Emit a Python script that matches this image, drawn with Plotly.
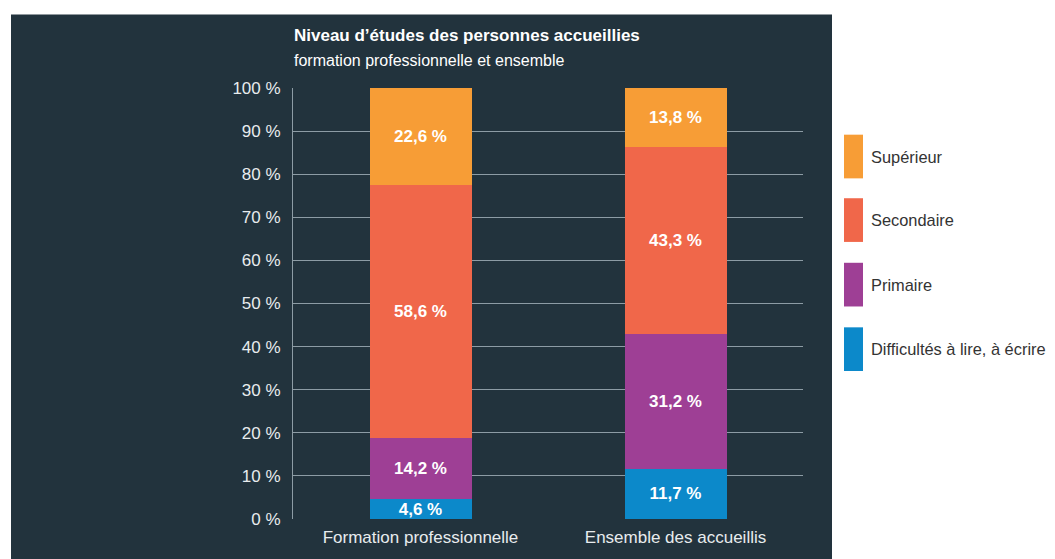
import plotly.graph_objects as go

categories = ["Formation professionnelle", "Ensemble des accueillis"]
series_names = ["Difficultés à lire, à écrire", "Primaire", "Secondaire", "Supérieur"]
difficultes = [4.6, 11.7]
primaire = [14.2, 31.2]
secondaire = [58.6, 43.3]
superieur = [22.6, 13.8]
series_values = [difficultes, primaire, secondaire, superieur]
series_colors = ["#0C89CA", "#9E3F95", "#F0674A", "#F79D36"]
y_tickvals = [0, 10, 20, 30, 40, 50, 60, 70, 80, 90, 100]
y_ticktext = [f"{v} %" for v in y_tickvals]

FONT = "Liberation Sans, Arial, sans-serif"
BG = "#22333D"

def fmt(v):
    return f"{v:.1f}".replace(".", ",") + " %"

fig = go.Figure()
for name, vals, col in zip(series_names, series_values, series_colors):
    fig.add_trace(go.Bar(
        x=categories, y=vals, name=name,
        marker=dict(color=col, line=dict(width=0)),
        text=[fmt(v) for v in vals],
        textposition="inside", insidetextanchor="middle",
        textangle=0, constraintext="none",
        textfont=dict(family=FONT, size=17, color="white", weight="bold"),
        width=0.4, showlegend=False, cliponaxis=False,
    ))

# page body has an 8px margin: figure coordinates = page pixels - 8
OFF = 8
W, H = 1055 - OFF, 559 - OFF
L, R, T, B = 293 - OFF, 1055 - 803, 88 - OFF, 559 - 522
pw, ph = W - L - R, H - T - B

def px_x(p):
    return (p - OFF - L) / pw

def px_y(p):
    return (H - B - (p - OFF)) / ph

shapes = [dict(type="rect", xref="paper", yref="paper", layer="below",
               x0=px_x(11), x1=px_x(832), y0=px_y(620), y1=px_y(14),
               fillcolor=BG, line=dict(width=0))]
annotations = [
    dict(text="<b>Niveau d’études des personnes accueillies</b>", xref="paper", yref="paper",
         x=px_x(292), y=px_y(35), xanchor="left", yanchor="middle", showarrow=False,
         font=dict(family=FONT, size=17, color="white")),
    dict(text="formation professionnelle et ensemble", xref="paper", yref="paper",
         x=px_x(292), y=px_y(60), xanchor="left", yanchor="middle", showarrow=False,
         font=dict(family=FONT, size=16, color="white")),
]

legend_order = [3, 2, 1, 0]
legend_tops = [135, 199, 264, 329]
for idx, top in zip(legend_order, legend_tops):
    shapes.append(dict(type="rect", xref="paper", yref="paper",
                       x0=px_x(844), x1=px_x(863), y0=px_y(top + 44), y1=px_y(top),
                       fillcolor=series_colors[idx], line=dict(width=0)))
    annotations.append(dict(text=series_names[idx], xref="paper", yref="paper",
                            x=px_x(869), y=px_y(top + 22), xanchor="left", yanchor="middle",
                            showarrow=False,
                            font=dict(family=FONT, size=16.4, color="#333333")))

fig.update_layout(
    barmode="stack",
    width=W, height=H,
    margin=dict(l=L, r=R, t=T, b=B, pad=0),
    paper_bgcolor="white",
    plot_bgcolor=BG,
    shapes=shapes,
    annotations=annotations,
    xaxis=dict(
        showgrid=False, zeroline=False, showline=False,
        tickfont=dict(family=FONT, size=17, color="#E8ECEE"),
        ticks="", ticklabelstandoff=6,
    ),
    yaxis=dict(
        range=[0, 100], tickvals=y_tickvals, ticktext=y_ticktext,
        showgrid=True, gridcolor="#8D9CA5", gridwidth=1,
        zeroline=False, showline=True, linecolor="#8D9CA5", linewidth=1,
        tickfont=dict(family=FONT, size=17, color="#E8ECEE"),
        ticks="", ticklabelstandoff=8,
    ),
)

fig.write_html("out.html")
